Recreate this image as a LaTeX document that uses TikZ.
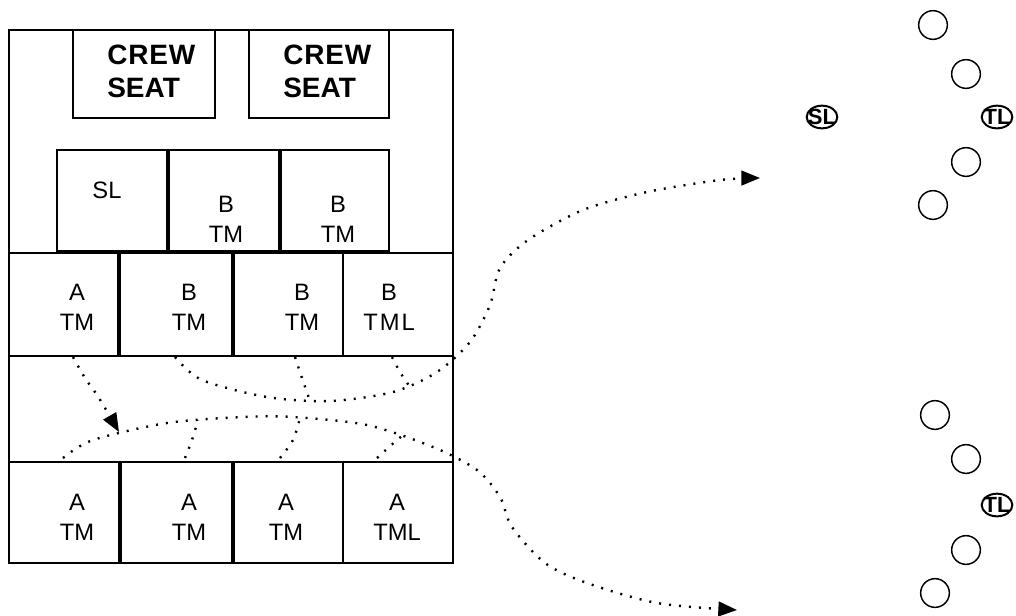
\documentclass[tikz,border=0pt]{standalone}
\usepackage{fontspec}
\setmainfont{Liberation Sans}
\usetikzlibrary{arrows.meta,shapes.geometric}

\begin{document}
\begin{tikzpicture}[x=0.75pt,y=-0.75pt,
  cellbox/.style={line width=1.5pt},
  celltext/.style={font=\fontsize{17.8}{22.5}\selectfont,align=center,inner sep=0pt},
  seattext/.style={font=\bfseries\fontsize{21}{24.75}\selectfont,align=left,anchor=west,inner sep=0pt},
  spot/.style={circle,draw,line width=1.1pt,minimum size=21.5pt,inner sep=0pt},
  tagspot/.style={ellipse,draw,line width=1.5pt,minimum width=23pt,minimum height=17pt,inner sep=0pt,
    label={[font=\bfseries\fontsize{16.5}{17}\selectfont,inner sep=0pt]center:#1}},
  move/.style={line width=1.8pt,dash pattern=on 1.5pt off 6pt},
  movetip/.style={move,-{Triangle[length=14pt,width=11pt]}}]
\useasboundingbox (0,0) rectangle (1016,615);

% formation box
\draw[cellbox] (9,30) rectangle (453,563);
\draw[cellbox] (73,30) rectangle (215,118);
\draw[cellbox] (249,30) rectangle (389,118);
\node[seattext] (seat1) at (107,71.5) {C\kern0.6pt R\kern0.6pt E\kern0.6pt W\\SEAT};
\node[seattext] (seat2) at (283,71.5) {C\kern0.6pt R\kern0.6pt E\kern0.6pt W\\SEAT};

% second row
\draw[cellbox] (57,150) rectangle (167,251);
\draw[cellbox] (169,150) rectangle (279,251);
\draw[cellbox] (281,150) rectangle (389,251);
\node[celltext] (sl) at (107,190) {SL};
\node[celltext] (btm1) at (226,219) {B\\TM};
\node[celltext] (btm2) at (338,219) {B\\TM};

% B row
\draw[cellbox] (9,253) rectangle (118,356);
\draw[cellbox] (120,253) rectangle (232,356);
\draw[cellbox] (234,253) rectangle (343,356);
\draw[cellbox] (343,253) rectangle (453,356);
\node[celltext] (atm0) at (77,307) {A\\TM};
\node[celltext] (btm3) at (189,307) {B\\TM};
\node[celltext] (btm4) at (302,307) {B\\TM};
\node[celltext] (btml) at (389,307) {B\\T\kern1.5pt M\kern1.5pt L};

% A row
\draw[cellbox] (9,462) rectangle (119,563);
\draw[cellbox] (121,462) rectangle (232,563);
\draw[cellbox] (234,462) rectangle (343,563);
\draw[cellbox] (343,462) rectangle (453,563);
\node[celltext] (atm1) at (77,517.5) {A\\TM};
\node[celltext] (atm2) at (189,517.5) {A\\TM};
\node[celltext] (atm3) at (286,517.5) {A\\TM};
\node[celltext] (atml) at (397,517.5) {A\\TML};

% upper formation
\node[spot] (u1) at (933,25) {};
\node[spot] (u2) at (966,74) {};
\node[tagspot=SL] (usl) at (822,117) {};
\node[tagspot=TL] (utl) at (997,117) {};
\node[spot] (u4) at (966,162) {};
\node[spot] (u5) at (933,205) {};

% lower formation
\node[spot] (l1) at (935,415) {};
\node[spot] (l2) at (966,459) {};
\node[tagspot=TL] (ltl) at (997,505) {};
\node[spot] (l4) at (966,550) {};
\node[spot] (l5) at (935,593) {};

% moves
\coordinate (upend) at (760,178);
\coordinate (lowend) at (737,610);
\coordinate (downend) at (119,432);
\draw[movetip] plot[smooth] coordinates {(175,357) (202,380) (267,397) (330,401) (393,392)
  (437,372) (470,342) (490,305) (500,268) (528,240) (583,210) (647,192) (720,180) (upend)};
\draw[move] plot[smooth] coordinates {(295,357) (302,378) (310,401)};
\draw[move] plot[smooth] coordinates {(392,357) (400,372) (410,387)};
\draw[movetip] plot[smooth] coordinates {(73,357) (85,378) (99,398) (downend)};
\draw[movetip] plot[smooth] coordinates {(63,458) (93,440) (167,423) (243,417) (293,417)
  (367,425) (433,447) (477,470) (500,497) (512,527) (545,563) (587,583) (657,603) (lowend)};
\draw[move] plot[smooth] coordinates {(185,458) (192,440) (198,420)};
\draw[move] plot[smooth] coordinates {(280,458) (293,440) (300,418)};
\draw[move] plot[smooth] coordinates {(377,458) (397,440) (405,434)};
\end{tikzpicture}
\end{document}
